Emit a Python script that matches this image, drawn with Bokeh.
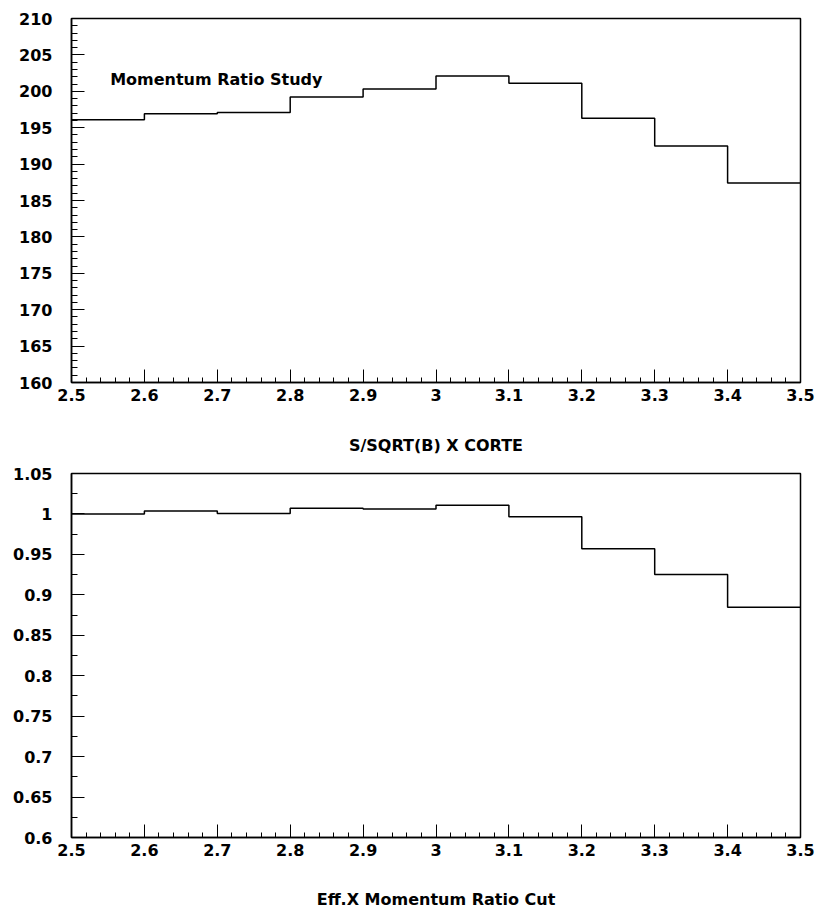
from bokeh.plotting import figure
from bokeh.layouts import column
from bokeh.models import Range1d, FixedTicker, CustomJSTickFormatter, Label
from bokeh.embed import file_html
from bokeh.resources import INLINE

# Bin edges of the momentum-ratio cut scan
bin_edges = [2.5, 2.6, 2.7, 2.8, 2.9, 3.0, 3.1, 3.2, 3.3, 3.4, 3.5]

# S/sqrt(B) for each cut value
signif = [196.1, 196.9, 197.1, 199.2, 200.3, 202.1, 201.1, 196.3, 192.5, 187.4]

# Efficiency for each cut value
eff = [1.000, 1.0036, 1.0005, 1.0069, 1.006, 1.0106, 0.9966, 0.957, 0.925, 0.8845]

x_ticks = [round(2.5 + 0.1 * i, 2) for i in range(11)]
x_minor = [round(2.5 + 0.02 * i, 3) for i in range(51)]
y1_ticks = [160 + 5 * i for i in range(11)]
y1_minor = [160 + i for i in range(51)]
y2_ticks = [round(0.6 + 0.05 * i, 3) for i in range(10)]
y2_minor = [round(0.6 + 0.025 * i, 4) for i in range(19)]

FONT = "DejaVu Sans"
fmt = CustomJSTickFormatter(code="return String(+tick.toFixed(3));")


def make_panel(values, y0, y1, yt, ym, xlabel, height, border_top, border_bottom, label_standoff):
    p = figure(width=821, height=height, frame_width=729, frame_height=364,
               x_range=Range1d(2.5, 3.5), y_range=Range1d(y0, y1),
               output_backend="svg", toolbar_location=None,
               min_border_left=71, min_border_right=21,
               min_border_top=border_top, min_border_bottom=border_bottom)
    p.grid.visible = False
    p.outline_line_color = "black"
    p.outline_line_width = 1.5
    p.background_fill_color = "white"
    p.border_fill_color = "white"

    for ax in (p.xaxis[0], p.yaxis[0]):
        ax.axis_line_color = "black"
        ax.axis_line_width = 1.5
        ax.major_tick_line_color = "black"
        ax.minor_tick_line_color = "black"
        ax.major_tick_line_width = 1
        ax.minor_tick_line_width = 1
        ax.major_tick_in = 13
        ax.major_tick_out = 0
        ax.minor_tick_in = 6
        ax.minor_tick_out = 0
        ax.major_label_text_font = FONT
        ax.major_label_text_font_style = "bold"
        ax.major_label_text_font_size = "16px"
        ax.major_label_text_color = "black"
        ax.formatter = fmt

    p.xaxis[0].ticker = FixedTicker(ticks=x_ticks, minor_ticks=x_minor)
    p.xaxis[0].minor_tick_in = 5
    p.xaxis[0].major_label_standoff = 6
    p.xaxis[0].axis_label = xlabel
    p.xaxis[0].axis_label_text_font = FONT
    p.xaxis[0].axis_label_text_font_style = "bold"
    p.xaxis[0].axis_label_text_font_size = "16px"
    p.xaxis[0].axis_label_text_color = "black"
    p.xaxis[0].axis_label_standoff = label_standoff

    p.yaxis[0].ticker = FixedTicker(ticks=yt, minor_ticks=ym)
    p.yaxis[0].major_label_standoff = 19

    xs = bin_edges
    ys = list(values) + [values[-1]]
    p.step(xs, ys, mode="after", line_color="black", line_width=1.5)
    return p


top = make_panel(signif, 160, 210, y1_ticks, y1_minor, "S/SQRT(B) X CORTE",
                 465, 18, 83, 32)
top.add_layout(Label(x=2.553, y=201.6, text="Momentum Ratio Study",
                     text_font=FONT, text_font_style="bold",
                     text_font_size="16px", text_color="black",
                     text_align="left", text_baseline="middle"))

bottom = make_panel(eff, 0.6, 1.05, y2_ticks, y2_minor, "Eff.X Momentum Ratio Cut",
                    450, 8, 78, 31)

layout = column(top, bottom, spacing=0)
open("out.html", "w").write(file_html(layout, INLINE))
